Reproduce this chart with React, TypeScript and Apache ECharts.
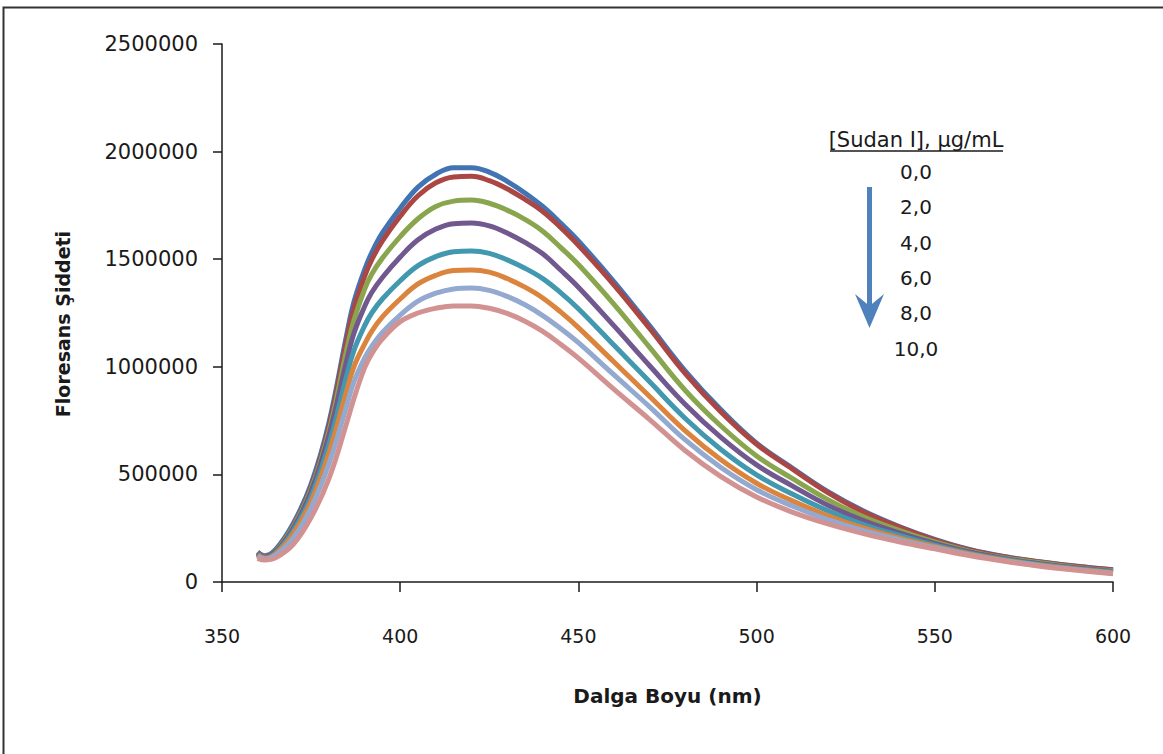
import React, { useEffect, useRef } from "react";
import * as echarts from "echarts";

const wavelengths = [360, 362, 365, 370, 375, 380, 385, 387, 390, 392, 395, 400, 405, 410, 415, 420, 425, 430, 435, 440, 445, 450, 460, 470, 480, 490, 500, 510, 520, 530, 540, 550, 560, 570, 580, 590, 600];

const blue = [140000, 122000, 150000, 272000, 455000, 740000, 1150000, 1300000, 1450000, 1530000, 1622000, 1737000, 1835000, 1895000, 1925000, 1925000, 1905000, 1862000, 1808000, 1745000, 1668000, 1585000, 1395000, 1190000, 980000, 800000, 645000, 530000, 420000, 330000, 258000, 198000, 150000, 117000, 93000, 73000, 57000];
const red = [135000, 118000, 145000, 262000, 440000, 720000, 1125000, 1270000, 1420000, 1497000, 1585000, 1700000, 1795000, 1855000, 1882000, 1885000, 1865000, 1827000, 1778000, 1722000, 1648000, 1565000, 1380000, 1178000, 968000, 790000, 640000, 525000, 415000, 325000, 255000, 195000, 148000, 115000, 92000, 72000, 56000];
const green = [133000, 116000, 143000, 258000, 432000, 700000, 1080000, 1215000, 1360000, 1430000, 1505000, 1605000, 1688000, 1745000, 1770000, 1775000, 1760000, 1728000, 1685000, 1630000, 1555000, 1475000, 1290000, 1090000, 890000, 725000, 586000, 481000, 383000, 303000, 240000, 186000, 142000, 111000, 88000, 68000, 52000];
const purple = [132000, 115000, 140000, 250000, 420000, 680000, 1030000, 1155000, 1280000, 1345000, 1415000, 1510000, 1590000, 1640000, 1665000, 1668000, 1655000, 1622000, 1578000, 1525000, 1450000, 1370000, 1190000, 1005000, 825000, 672000, 544000, 447000, 357000, 285000, 228000, 179000, 138000, 107000, 84000, 65000, 49000];
const teal = [128000, 112000, 135000, 238000, 398000, 640000, 960000, 1075000, 1190000, 1250000, 1315000, 1400000, 1470000, 1512000, 1535000, 1538000, 1527000, 1497000, 1458000, 1410000, 1345000, 1270000, 1100000, 930000, 760000, 616000, 498000, 409000, 331000, 267000, 216000, 171000, 133000, 103000, 80000, 62000, 46000];
const orange = [125000, 110000, 130000, 225000, 375000, 600000, 890000, 1000000, 1105000, 1165000, 1232000, 1315000, 1385000, 1425000, 1447000, 1450000, 1440000, 1410000, 1370000, 1320000, 1255000, 1182000, 1022000, 862000, 702000, 568000, 459000, 377000, 308000, 251000, 205000, 165000, 129000, 100000, 77000, 59000, 43000];
const lightBlue = [120000, 107000, 124000, 205000, 345000, 550000, 820000, 930000, 1040000, 1095000, 1160000, 1240000, 1305000, 1342000, 1362000, 1366000, 1355000, 1327000, 1288000, 1238000, 1178000, 1112000, 962000, 814000, 660000, 532000, 429000, 353000, 290000, 239000, 197000, 160000, 126000, 98000, 75000, 57000, 41000];
const pink = [110000, 102000, 112000, 175000, 300000, 480000, 740000, 852000, 995000, 1060000, 1130000, 1210000, 1250000, 1272000, 1283000, 1283000, 1272000, 1248000, 1212000, 1165000, 1105000, 1040000, 895000, 755000, 610000, 490000, 395000, 325000, 270000, 225000, 187000, 154000, 122000, 95000, 72000, 54000, 38000];

const seriesValues = [blue, red, green, purple, teal, orange, lightBlue, pink];
const seriesNames = ["Seri 1", "Seri 2", "Seri 3", "Seri 4", "Seri 5", "Seri 6", "Seri 7", "Seri 8"];
const seriesColors = ["#4274B4", "#AA4643", "#89A54E", "#71588F", "#4198AF", "#DB843D", "#93A9CF", "#D39292"];

const concentrationTitle = "[Sudan I], µg/mL";
const concentrationLabels = ["0,0", "2,0", "4,0", "6,0", "8,0", "10,0"];

const FONT = "DejaVu Sans";

export default function App() {
  const ref = useRef<HTMLDivElement>(null);

  useEffect(() => {
    if (!ref.current) return;
    const chart = echarts.init(ref.current, undefined, { renderer: "svg" });

    const series = seriesValues.map((vals, i) => ({
      name: seriesNames[i],
      type: "line",
      data: wavelengths.map((w, j) => [w, vals[j]]),
      showSymbol: false,
      smooth: 0.4,
      lineStyle: { color: seriesColors[i], width: 5 },
      itemStyle: { color: seriesColors[i] },
      z: 2 + i,
    }));

    const labelGraphics = concentrationLabels.map((t, i) => ({
      type: "text",
      x: 916,
      y: 172 + i * 35.3,
      style: {
        text: t,
        fontFamily: FONT,
        fontSize: 20,
        fill: "#1a1a1a",
        align: "center",
        verticalAlign: "middle",
      },
    }));

    chart.setOption({
      animation: false,
      backgroundColor: "#ffffff",
      grid: { left: 222, right: 50, top: 44, bottom: 172, containLabel: false },
      xAxis: {
        type: "value",
        min: 350,
        max: 600,
        interval: 50,
        name: "Dalga Boyu (nm)",
        nameLocation: "middle",
        nameGap: 104,
        nameTextStyle: { fontFamily: FONT, fontSize: 20, fontWeight: "bold", color: "#1a1a1a" },
        axisLine: { lineStyle: { color: "#1a1a1a", width: 1.5 } },
        axisTick: { length: 10, lineStyle: { color: "#1a1a1a", width: 1.5 } },
        axisLabel: { fontFamily: FONT, fontSize: 19, color: "#1a1a1a", margin: 44 },
        splitLine: { show: false },
      },
      yAxis: {
        type: "value",
        min: 0,
        max: 2500000,
        interval: 500000,
        name: "Floresans Şiddeti",
        nameLocation: "middle",
        nameGap: 150,
        nameTextStyle: {
          fontFamily: FONT,
          fontSize: 19,
          fontWeight: "bold",
          color: "#1a1a1a",
          padding: [0, 22, 0, 0],
        },
        axisLine: { show: true, lineStyle: { color: "#1a1a1a", width: 1.5 } },
        axisTick: { show: true, length: 9, lineStyle: { color: "#1a1a1a", width: 1.5 } },
        axisLabel: {
          fontFamily: FONT,
          fontSize: 21,
          color: "#1a1a1a",
          margin: 24,
          formatter: (v: number) => String(v),
        },
        splitLine: { show: false },
      },
      series,
      graphic: [
        {
          type: "rect",
          shape: { x: 3.5, y: 7.5, width: 1300, height: 900 },
          style: { fill: "none", stroke: "#333333", lineWidth: 2 },
          silent: true,
          z: 0,
        },
        {
          type: "text",
          x: 916,
          y: 140,
          style: {
            text: concentrationTitle,
            fontFamily: FONT,
            fontSize: 21,
            fill: "#1a1a1a",
            align: "center",
            verticalAlign: "middle",
          },
        },
        {
          type: "line",
          shape: { x1: 830, y1: 151, x2: 1003, y2: 151 },
          style: { stroke: "#1a1a1a", lineWidth: 1.5 },
        },
        ...labelGraphics,
        {
          type: "line",
          shape: { x1: 869.5, y1: 187, x2: 869.5, y2: 310 },
          style: { stroke: "#4F81BD", lineWidth: 5 },
        },
        {
          type: "polygon",
          shape: { points: [[855, 294], [869.5, 306], [884, 294], [869.5, 328]] },
          style: { fill: "#4F81BD" },
        },
      ],
    });

    return () => chart.dispose();
  }, []);

  return (
    <div
      ref={ref}
      style={{ position: "absolute", left: 0, top: 0, width: 1163, height: 754 }}
    />
  );
}
